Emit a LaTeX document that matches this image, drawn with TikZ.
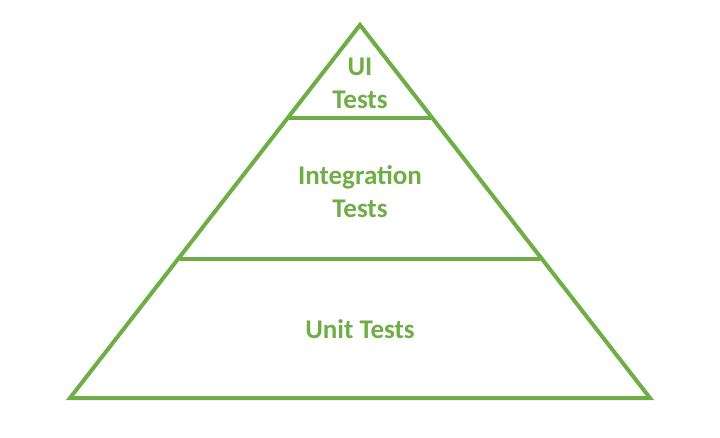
\documentclass[tikz,border=0pt]{standalone}
\usepackage{fontspec}
\setmainfont{Carlito}
\definecolor{grn}{HTML}{70AD47}
\begin{document}
\begin{tikzpicture}[x=1pt,y=-1pt,
  edge/.style={draw=grn,line width=4pt,line join=miter},
  lbl/.style={text=grn,font=\bfseries\fontsize{27}{33}\selectfont,align=center}]
\useasboundingbox (0,0) rectangle (720,438);
\coordinate (apex) at (360,25);
\coordinate (bl) at (70,398);
\coordinate (br) at (650,398);
\coordinate (l1) at (289,118);
\coordinate (r1) at (431,118);
\coordinate (l2) at (180,259);
\coordinate (r2) at (540,259);
\draw[edge] (apex) -- (br) -- (bl) -- cycle;
\draw[edge] (l1) -- (r1);
\draw[edge] (l2) -- (r2);
\node[lbl] (ui) at (360,83) {UI\\Tests};
\node[lbl] (it) at (360,192) {Integration\\Tests};
\node[lbl] (un) at (360,329) {Unit Tests};
\end{tikzpicture}
\end{document}
